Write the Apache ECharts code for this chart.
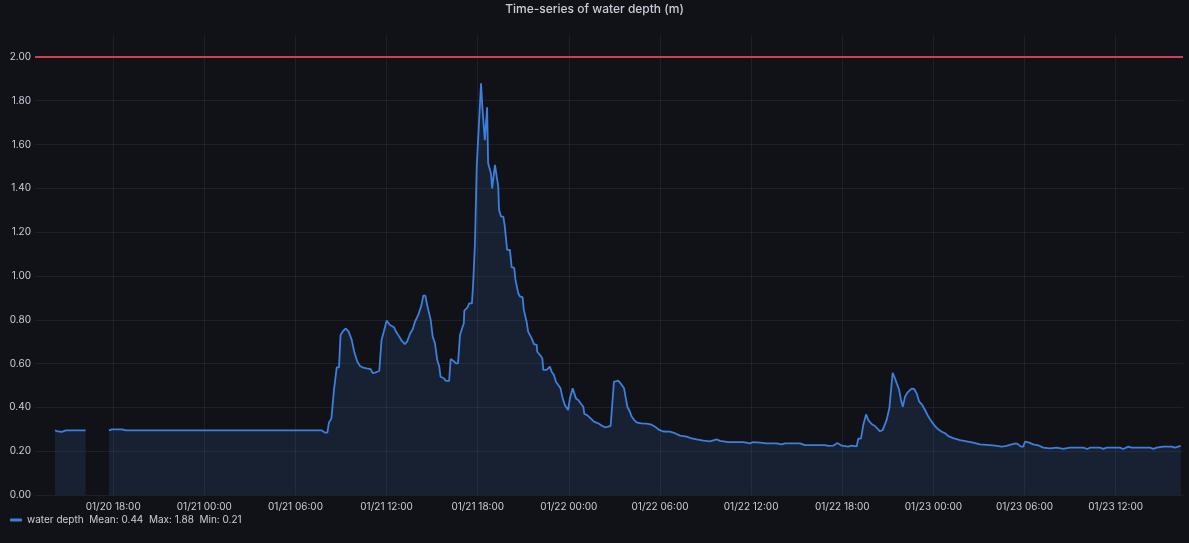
<!DOCTYPE html>
<html><head><meta charset="utf-8">
<script src="https://cdn.jsdelivr.net/npm/echarts@6/dist/echarts.min.js"></script>
<style>html,body{margin:0;padding:0;background:#111217;}#c{width:1189px;height:543px;}</style>
</head><body><div id="c"></div>
<script>
const titleText = 'Time-series of water depth (m)';
const seriesName = 'water depth';
// reference time 01/20 18:00 ; offsets in minutes from it
const baseTime = new Date(2024, 0, 20, 18, 0).getTime();
const offsetsMin = [
  -230,-218,-203,-187,-109,-60,-17,-5,34,50,824,836,846,852,862,872,883,892,898,909,919,930,942,952,964,975,988,1001,1017,1025,1034,1051,1060,1069,1080,1093,1109,1117,1130,1139,1152,1161,1172,1183,1192,1205,1218,1225,1233,1240,1254,1262,1271,1280,1288,1293,1306,1314,1327,1333,1343,1354,1362,1370,1378,1385,1387,1399,1406,1417,1422,1429,1436,1442,1449,1453,1458,1462,1468,1477,1481,1492,1497,1508,1515,1521,1524,1532,1541,1547,1556,1567,1574,1584,1589,1600,1607,1617,1622,1633,1639,1653,1662,1673,1675,1686,1695,1699,1712,1725,1732,1741,1749,1758,1767,1774,1784,1797,1804,1815,1828,1837,1846,1857,1861,1872,1886,1899,1916,1929,1942,1955,1965,1978,1995,2004,2018,2025,2031,2041,2048,2058,2070,2087,2107,2127,2140,2157,2173,2199,2219,2239,2265,2285,2305,2331,2357,2384,2397,2430,2489,2515,2528,2555,2581,2621,2641,2654,2713,2733,2812,2825,2844,2861,2878,2904,2917,2937,2943,2954,2963,2974,2983,2996,3009,3018,3029,3040,3046,3055,3066,3071,3079,3088,3095,3104,3112,3119,3128,3137,3154,3164,3174,3184,3194,3207,3220,3233,3246,3259,3273,3286,3299,3318,3345,3371,3397,3424,3476,3510,3529,3549,3566,3575,3586,3595,3602,3619,3634,3654,3674,3700,3727,3753,3779,3832,3848,3858,3898,3911,3924,3977,3990,4010,4023,4095,4109,4122,4148,4181,4194,4217
];
const depthM = [
  0.295,0.290,0.288,0.295,0.295,null,0.295,0.300,0.300,0.295,0.295,0.285,0.285,0.330,0.350,0.480,0.583,0.583,0.730,0.750,0.760,0.746,0.708,0.654,0.609,0.589,0.581,0.578,0.575,0.556,0.559,0.566,0.708,0.746,0.796,0.776,0.766,0.746,0.723,0.705,0.689,0.700,0.735,0.757,0.791,0.822,0.868,0.910,0.910,0.868,0.800,0.723,0.693,0.616,0.586,0.540,0.533,0.521,0.521,0.621,0.613,0.601,0.601,0.730,0.760,0.784,0.842,0.855,0.875,0.875,0.967,1.149,1.500,1.500,1.790,1.880,1.773,1.780,1.620,1.770,1.515,1.469,1.400,1.507,1.453,1.408,1.301,1.271,1.271,1.225,1.119,1.119,1.040,1.037,0.982,0.921,0.906,0.903,0.845,0.791,0.746,0.715,0.689,0.685,0.654,0.639,0.624,0.571,0.571,0.586,0.563,0.548,0.517,0.502,0.487,0.449,0.411,0.388,0.441,0.487,0.441,0.434,0.419,0.403,0.370,0.365,0.350,0.335,0.327,0.317,0.309,0.312,0.316,0.517,0.522,0.510,0.487,0.441,0.403,0.380,0.358,0.342,0.330,0.327,0.326,0.321,0.312,0.297,0.290,0.289,0.282,0.271,0.266,0.259,0.254,0.248,0.245,0.254,0.247,0.241,0.241,0.236,0.241,0.239,0.236,0.236,0.231,0.236,0.236,0.228,0.228,0.224,0.225,0.237,0.225,0.221,0.225,0.222,0.257,0.257,0.320,0.368,0.342,0.324,0.315,0.304,0.291,0.297,0.304,0.342,0.396,0.403,0.558,0.533,0.510,0.483,0.434,0.403,0.449,0.467,0.486,0.484,0.464,0.426,0.414,0.388,0.358,0.335,0.315,0.300,0.289,0.282,0.269,0.260,0.251,0.245,0.239,0.231,0.227,0.221,0.224,0.231,0.236,0.231,0.221,0.221,0.244,0.239,0.231,0.227,0.216,0.213,0.216,0.211,0.216,0.216,0.210,0.216,0.216,0.211,0.216,0.216,0.210,0.221,0.216,0.216,0.211,0.216,0.221,0.221,0.216,0.224
];
const statLabels = ['Mean', 'Max', 'Min'];
const statValues = ['0.44', '1.88', '0.21'];
const thresholdM = 2.0;
const axisStartMin = -309;
const axisEndMin = 4226;
const yMin = 0, yMax = 2.1, yStep = 0.2;
const xStepHours = 6.5; // approx step, resolves to 6-hour ticks

const data = offsetsMin.map((m, i) => [baseTime + m * 60000, depthM[i]]);
const txt = '#ccccdc';
const grid = 'rgba(204,204,220,0.08)';

const chart = echarts.init(document.getElementById('c'), null, {renderer: 'canvas'});
chart.setOption({
  backgroundColor: '#111217',
  animation: false,
  title: {
    text: titleText, left: 'center', top: -2,
    textStyle: {color: txt, fontSize: 12, fontWeight: 500, fontFamily: 'Inter'}
  },
  legend: {
    left: 5, top: 510, icon: 'roundRect', itemWidth: 12, itemHeight: 3, itemGap: 10,
    textStyle: {color: txt, fontSize: 10, fontFamily: 'Inter'},
    formatter: name => name + '  ' + statLabels.map((l, i) => l + ': ' + statValues[i]).join('  ')
  },
  grid: {left: 35, right: 6, top: 35, bottom: 48, outerBoundsMode: 'none', containLabel: false},
  xAxis: {
    type: 'time',
    min: baseTime + axisStartMin * 60000,
    max: baseTime + axisEndMin * 60000,
    minInterval: xStepHours * 3600000, maxInterval: xStepHours * 3600000,
    axisLine: {show: false}, axisTick: {show: false},
    splitLine: {show: true, showMinLine: false, showMaxLine: false, lineStyle: {color: grid, width: 1}},
    axisLabel: {
      color: txt, fontSize: 10, fontFamily: 'Inter', margin: 7,
      showMinLabel: false, showMaxLabel: false, hideOverlap: false,
      formatter: '{MM}/{dd} {HH}:{mm}'
    }
  },
  yAxis: {
    type: 'value', min: yMin, max: yMax, interval: yStep,
    axisLine: {show: false}, axisTick: {show: false},
    splitLine: {show: true, showMaxLine: false, lineStyle: {color: grid, width: 1}},
    axisLabel: {
      color: txt, fontSize: 10, fontFamily: 'Inter', margin: 4, showMaxLabel: false,
      formatter: v => v.toFixed(2)
    }
  },
  series: [{
    name: seriesName, type: 'line', data: data, showSymbol: false, symbol: 'none',
    connectNulls: false,
    lineStyle: {color: '#3d7fdc', width: 1.8},
    itemStyle: {color: '#3d7fdc'},
    areaStyle: {color: 'rgba(61,127,220,0.2)'},
    markLine: {
      silent: true, symbol: 'none', label: {show: false},
      lineStyle: {color: '#d0414f', width: 2, type: 'solid'},
      data: [{yAxis: thresholdM}]
    }
  }]
});
</script></body></html>
